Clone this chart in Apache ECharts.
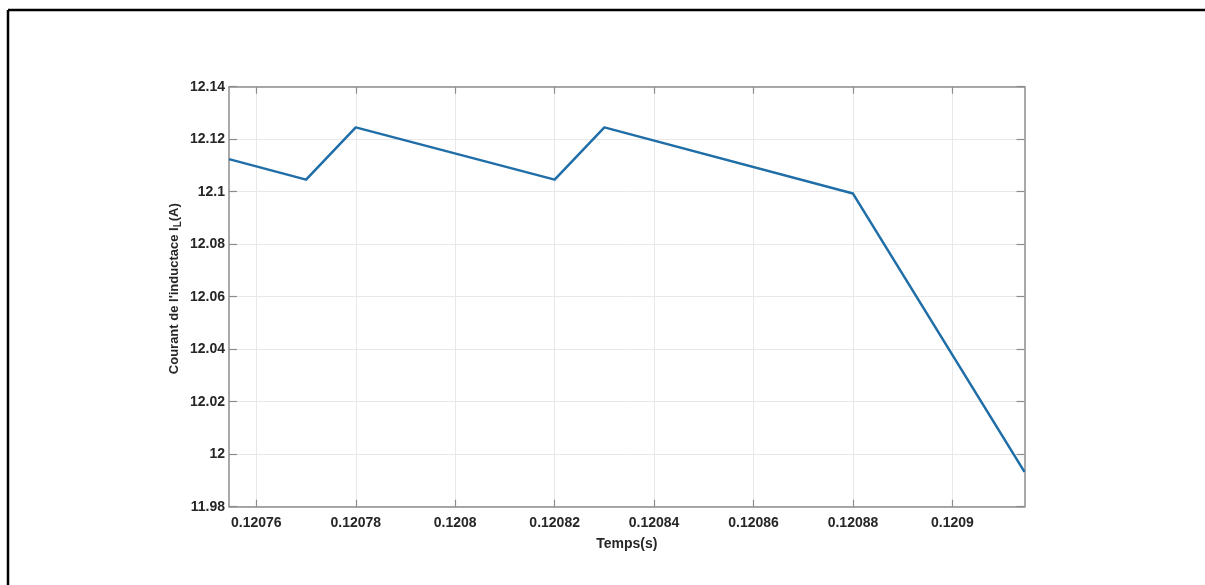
<!DOCTYPE html>
<html>
<head>
<meta charset="utf-8">
<script src="https://cdn.jsdelivr.net/npm/echarts@6/dist/echarts.min.js"></script>
<style>
html,body{margin:0;padding:0;background:#fff;}
#chart{width:1205px;height:585px;}
</style>
</head>
<body>
<div id="chart"></div>
<script>
// Data
const timeValues = [0.1207545, 0.12077, 0.12078, 0.12082, 0.12083, 0.12088, 0.1209145];
const currentValues = [12.1124, 12.1046, 12.1245, 12.1046, 12.1245, 12.0993, 11.9933];
const xTickValues = [0.12076, 0.12078, 0.1208, 0.12082, 0.12084, 0.12086, 0.12088, 0.1209];
const xTickLabels = ['0.12076', '0.12078', '0.1208', '0.12082', '0.12084', '0.12086', '0.12088', '0.1209'];
const xRange = [0.1207545, 0.1209145];
const yRange = [11.98, 12.14];
const yInterval = 0.02;

const chart = echarts.init(document.getElementById('chart'), null, {renderer: 'canvas'});
const font = 'Arial, "Liberation Sans", Helvetica, sans-serif';
const axisColor = '#8c8c8c';
const textColor = '#262626';
const gridColor = '#e8e8e8';

function labelFor(v) {
  let best = 0, bd = Infinity;
  xTickValues.forEach((t, i) => { const d = Math.abs(t - v); if (d < bd) { bd = d; best = i; } });
  return xTickLabels[best];
}

const data = timeValues.map((t, i) => [t, currentValues[i]]);

chart.setOption({
  animation: false,
  backgroundColor: '#fff',
  grid: {left: 229, top: 86.7, right: 180.5, bottom: 78.3, containLabel: false},
  graphic: [
    {type: 'line', shape: {x1: 8, y1: 10, x2: 1205, y2: 10}, style: {stroke: '#000', lineWidth: 2.5}},
    {type: 'line', shape: {x1: 8, y1: 10, x2: 8, y2: 585}, style: {stroke: '#000', lineWidth: 2.5}}
  ],
  xAxis: [
    {
      type: 'value', position: 'bottom', min: xRange[0], max: xRange[1],
      name: 'Temps(s)', nameLocation: 'middle', nameGap: 30,
      nameTextStyle: {fontFamily: font, fontWeight: 'bold', fontSize: 14, color: textColor},
      axisLine: {show: true, onZero: false, lineStyle: {color: axisColor, width: 1.5}},
      axisTick: {show: true, inside: true, length: 7, customValues: xTickValues, lineStyle: {color: axisColor, width: 1.2}},
      axisLabel: {show: true, margin: 9, customValues: xTickValues, formatter: v => labelFor(v),
        fontFamily: font, fontWeight: 'bold', fontSize: 14, color: textColor},
      splitLine: {show: true, customValues: xTickValues, lineStyle: {color: gridColor, width: 1}}
    },
    {
      type: 'value', position: 'top', min: xRange[0], max: xRange[1],
      axisLine: {show: true, onZero: false, lineStyle: {color: axisColor, width: 1.5}},
      axisTick: {show: true, inside: true, length: 7, customValues: xTickValues, lineStyle: {color: axisColor, width: 1.2}},
      axisLabel: {show: false},
      splitLine: {show: false}
    }
  ],
  yAxis: [
    {
      type: 'value', position: 'left', min: yRange[0], max: yRange[1], interval: yInterval,
      name: '{n|Courant de l\'inductace I}{s|L}{n|(A)}', nameLocation: 'middle', nameGap: 46, nameRotate: 90,
      nameMoveOverlap: false,
      nameTextStyle: {
        fontFamily: font, fontWeight: 'bold', fontSize: 13, color: textColor,
        padding: [0, 0, 0, 16],
        rich: {
          n: {fontFamily: font, fontWeight: 'bold', fontSize: 13, color: textColor},
          s: {fontFamily: font, fontWeight: 'bold', fontSize: 10, color: textColor, verticalAlign: 'bottom', padding: [8, 0, 0, 0]}
        }
      },
      axisLine: {show: true, onZero: false, lineStyle: {color: axisColor, width: 1.5}},
      axisTick: {show: true, inside: true, length: 8, lineStyle: {color: axisColor, width: 1.2}},
      axisLabel: {show: true, margin: 4, fontFamily: font, fontWeight: 'bold', fontSize: 14, color: textColor},
      splitLine: {show: true, lineStyle: {color: gridColor, width: 1}}
    },
    {
      type: 'value', position: 'right', min: yRange[0], max: yRange[1], interval: yInterval,
      axisLine: {show: true, onZero: false, lineStyle: {color: axisColor, width: 1.5}},
      axisTick: {show: true, inside: true, length: 8, lineStyle: {color: axisColor, width: 1.2}},
      axisLabel: {show: false},
      splitLine: {show: false}
    }
  ],
  series: [{
    type: 'line', xAxisIndex: 0, yAxisIndex: 0, data: data,
    showSymbol: false, symbol: 'none', clip: true,
    lineStyle: {color: '#1f6ea8', width: 2.5, join: 'round'}
  }]
});
</script>
</body>
</html>
